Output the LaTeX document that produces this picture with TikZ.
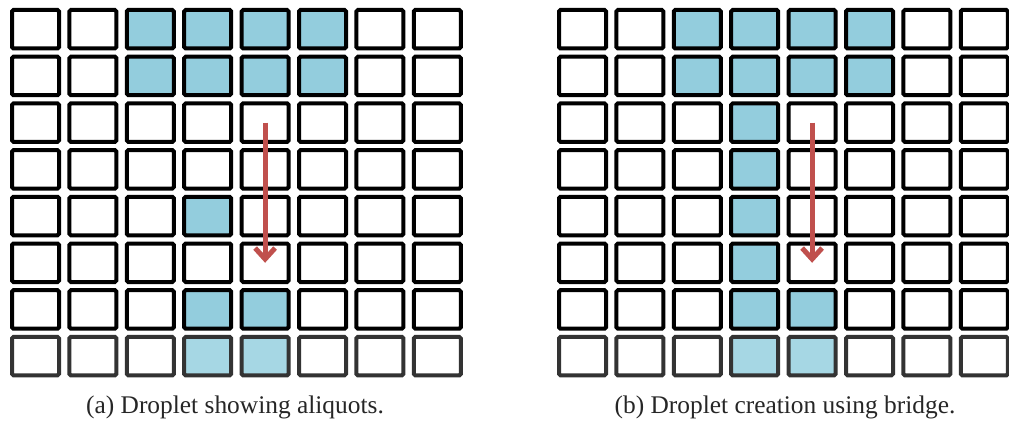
\documentclass[tikz,border=0pt]{standalone}
\usepackage{fontspec}
\setmainfont{Liberation Serif}
\usetikzlibrary{arrows.meta}

\definecolor{drop}{HTML}{93CDDD}
\definecolor{dropfade}{HTML}{A6D7E4}
\definecolor{edgefade}{HTML}{333333}
\definecolor{move}{HTML}{C0504D}

\tikzset{
  cell/.style={rectangle, line width=4pt, rounded corners=1.5pt,
    minimum width=47pt, minimum height=38.5pt, inner sep=0pt},
  movearrow/.style={draw=move, line width=5pt,
    -{Straight Barb[length=11pt, width=20pt]}},
  caption/.style={anchor=base, inner sep=0pt,
    font=\fontsize{25.4pt}{30pt}\selectfont, text=black!85}
}

% electrode states per row: 0 = empty, 1 = covered,
% 2/3 = same, on the faded bottom row
\def\rowsa{1/{0,0,1,1,1,1,0,0}, 2/{0,0,1,1,1,1,0,0},
  3/{0,0,0,0,0,0,0,0}, 4/{0,0,0,0,0,0,0,0},
  5/{0,0,0,1,0,0,0,0}, 6/{0,0,0,0,0,0,0,0},
  7/{0,0,0,1,1,0,0,0}, 8/{2,2,2,3,3,2,2,2}}
\def\rowsb{1/{0,0,1,1,1,1,0,0}, 2/{0,0,1,1,1,1,0,0},
  3/{0,0,0,1,0,0,0,0}, 4/{0,0,0,1,0,0,0,0},
  5/{0,0,0,1,0,0,0,0}, 6/{0,0,0,1,0,0,0,0},
  7/{0,0,0,1,1,0,0,0}, 8/{2,2,2,3,3,2,2,2}}

\begin{document}
\begin{tikzpicture}[x=1pt, y=-1pt]
\useasboundingbox (0,0) rectangle (1009,425);

\foreach \g/\x/\k in {a/35.5/1, b/582.5/2} {
  \ifnum\k=1 \let\rows\rowsa \else \let\rows\rowsb \fi
  \foreach \r/\pattern in \rows {
    \foreach \v [count=\c] in \pattern {
      \ifcase\v
        \def\fc{white}\def\dc{black}%
      \or
        \def\fc{drop}\def\dc{black}%
      \or
        \def\fc{white}\def\dc{edgefade}%
      \or
        \def\fc{dropfade}\def\dc{edgefade}%
      \fi
      \node[cell, fill=\fc, draw=\dc] (\g-\r-\c)
        at ({\x + 57.4*(\c-1)}, {29.25 + 46.7*(\r-1)}) {};
    }
  }
}

% droplet movement
\draw[movearrow] (a-3-5.center) -- (a-6-5.center);
\draw[movearrow] (b-3-5.center) -- (b-6-5.center);

% sub-figure captions
\node[caption] (capa) at (235,413) {(a) Droplet showing aliquots.};
\node[caption] (capb) at (785,413) {(b) Droplet creation using bridge.};
\end{tikzpicture}
\end{document}
